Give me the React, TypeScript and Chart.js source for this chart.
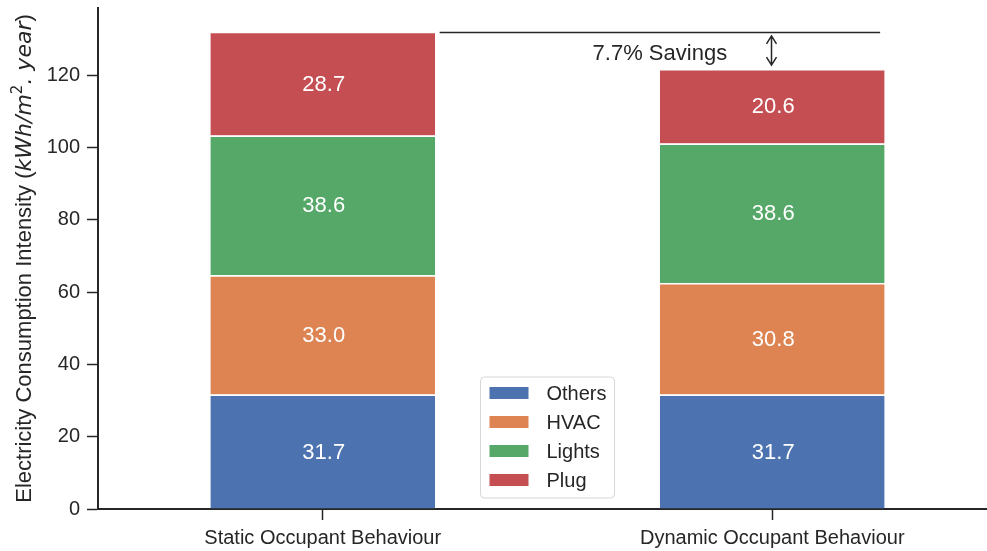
import React, { useEffect, useRef } from 'react';
import { Chart, registerables } from 'chart.js';

Chart.register(...registerables);

const categories = ['Static Occupant Behaviour', 'Dynamic Occupant Behaviour'];
const seriesNames = ['Others', 'HVAC', 'Lights', 'Plug'];
const othersValues = [31.7, 31.7];
const hvacValues = [33.0, 30.8];
const lightsValues = [38.6, 38.6];
const plugValues = [28.7, 20.6];
const seriesColors = ['#4C72B0', '#DD8452', '#55A868', '#C44E52'];
const yTicks = [0, 20, 40, 60, 80, 100, 120];
const yMax = 138.6;
const savingsLabel = '7.7% Savings';
const savingsLineFrom = 0.26;
const savingsLineTo = 1.24;
const savingsTextX = 0.75;
const savingsTextY = 126.0;
const savingsArrowX = 1.0;

const FONT = '"Liberation Sans", Arial, sans-serif';
const TEXT_COLOR = '#262626';

const allSeries = [othersValues, hvacValues, lightsValues, plugValues];

const totals = categories.map((_, i) => allSeries.reduce((s, arr) => s + arr[i], 0));

const overlayPlugin = {
  id: 'overlay',
  afterDatasetsDraw(chart: any) {
    const ctx = chart.ctx;
    ctx.save();
    ctx.fillStyle = '#ffffff';
    ctx.font = `22px ${FONT}`;
    ctx.textAlign = 'center';
    ctx.textBaseline = 'middle';
    chart.data.datasets.forEach((ds: any, di: number) => {
      const meta = chart.getDatasetMeta(di);
      meta.data.forEach((bar: any, i: number) => {
        const v = ds.data[i];
        ctx.fillText(v.toFixed(1), bar.x + 1, (bar.y + bar.base) / 2 + 1);
      });
    });
    ctx.restore();
  },
  afterDraw(chart: any) {
    const ctx = chart.ctx;
    const xs = chart.scales.x;
    const ys = chart.scales.y;
    const area = chart.chartArea;

    const topStatic = totals[0];
    const topDynamic = totals[1];
    ctx.save();
    ctx.strokeStyle = TEXT_COLOR;
    ctx.lineWidth = 1.5;
    const ly = Math.round(ys.getPixelForValue(topStatic)) + 0.5;
    ctx.beginPath();
    ctx.moveTo(xs.getPixelForValue(savingsLineFrom), ly);
    ctx.lineTo(xs.getPixelForValue(savingsLineTo), ly);
    ctx.stroke();

    ctx.fillStyle = TEXT_COLOR;
    ctx.font = `22px ${FONT}`;
    ctx.textAlign = 'center';
    ctx.textBaseline = 'middle';
    ctx.fillText(savingsLabel, xs.getPixelForValue(savingsTextX), ys.getPixelForValue(savingsTextY));

    const ax = Math.round(xs.getPixelForValue(savingsArrowX)) - 0.5;
    const a1 = ys.getPixelForValue(topStatic) + 4;
    const a2 = ys.getPixelForValue(topDynamic) - 4;
    ctx.lineWidth = 1.5;
    ctx.beginPath();
    ctx.moveTo(ax, a1);
    ctx.lineTo(ax, a2);
    ctx.moveTo(ax - 5, a1 + 8);
    ctx.lineTo(ax, a1);
    ctx.lineTo(ax + 5, a1 + 8);
    ctx.moveTo(ax - 5, a2 - 8);
    ctx.lineTo(ax, a2);
    ctx.lineTo(ax + 5, a2 - 8);
    ctx.stroke();
    ctx.restore();

    // legend (lower center)
    ctx.save();
    const bw = 134;
    const bh = 121;
    const bx = (area.left + area.right) / 2 - bw / 2;
    const by = area.bottom - 11 - bh;
    ctx.beginPath();
    const r = 4;
    ctx.moveTo(bx + r, by);
    ctx.lineTo(bx + bw - r, by);
    ctx.quadraticCurveTo(bx + bw, by, bx + bw, by + r);
    ctx.lineTo(bx + bw, by + bh - r);
    ctx.quadraticCurveTo(bx + bw, by + bh, bx + bw - r, by + bh);
    ctx.lineTo(bx + r, by + bh);
    ctx.quadraticCurveTo(bx, by + bh, bx, by + bh - r);
    ctx.lineTo(bx, by + r);
    ctx.quadraticCurveTo(bx, by, bx + r, by);
    ctx.closePath();
    ctx.fillStyle = 'rgba(255,255,255,0.8)';
    ctx.fill();
    ctx.strokeStyle = '#d6d6d6';
    ctx.lineWidth = 1;
    ctx.stroke();
    ctx.font = `20px ${FONT}`;
    ctx.textAlign = 'left';
    ctx.textBaseline = 'middle';
    seriesNames.forEach((name, i) => {
      const cy = by + 16 + i * 29;
      ctx.fillStyle = seriesColors[i];
      ctx.fillRect(bx + 9, cy - 6, 39, 12);
      ctx.fillStyle = TEXT_COLOR;
      ctx.fillText(name, bx + 66, cy + 1);
    });
    ctx.restore();

    // y-axis title with mixed styles
    ctx.save();
    const cyT = (area.top + area.bottom) / 2;
    ctx.translate(22, cyT);
    ctx.rotate(-Math.PI / 2);
    ctx.fillStyle = TEXT_COLOR;
    ctx.textBaseline = 'alphabetic';
    ctx.textAlign = 'left';
    const pieces = [
      { t: 'Electricity Consumption Intensity (', f: `22px ${FONT}`, dy: 0 },
      { t: 'kWh/m', f: `italic 22px "DejaVu Sans", sans-serif`, dy: 0 },
      { t: '2', f: `15px "DejaVu Sans", sans-serif`, dy: -9 },
      { t: '. year', f: `italic 22px "DejaVu Sans", sans-serif`, dy: 0 },
      { t: ')', f: `22px ${FONT}`, dy: 0 },
    ];
    let total = 0;
    pieces.forEach((p) => {
      ctx.font = p.f;
      total += ctx.measureText(p.t).width;
    });
    let px = -total / 2;
    pieces.forEach((p) => {
      ctx.font = p.f;
      ctx.fillText(p.t, px, 9 + p.dy);
      px += ctx.measureText(p.t).width;
    });
    ctx.restore();
  },
};

export default function App() {
  const canvasRef = useRef<HTMLCanvasElement | null>(null);

  useEffect(() => {
    if (!canvasRef.current) return;
    const chart = new Chart(canvasRef.current, {
      type: 'bar',
      data: {
        labels: categories,
        datasets: seriesNames.map((name, i) => ({
          label: name,
          data: allSeries[i],
          backgroundColor: seriesColors[i],
          borderColor: '#ffffff',
          borderWidth: { top: 1.5, bottom: 0, left: 0, right: 0 },
          borderSkipped: false,
          categoryPercentage: 1,
          barPercentage: 0.5,
        })),
      },
      options: {
        animation: false,
        responsive: false,
        maintainAspectRatio: false,
        devicePixelRatio: 1,
        layout: { padding: { top: 8, right: 0, left: 0, bottom: 0 } },
        plugins: {
          legend: { display: false },
          tooltip: { enabled: false },
        },
        scales: {
          x: {
            stacked: true,
            offset: true,
            grid: {
              display: true,
              drawOnChartArea: false,
              drawTicks: true,
              tickLength: 11,
              tickWidth: 1.5,
              tickColor: TEXT_COLOR,
              offset: false,
            },
            border: { display: true, color: TEXT_COLOR, width: 2 },
            ticks: {
              color: TEXT_COLOR,
              font: { family: FONT, size: 20 },
              padding: 6,
              maxRotation: 0,
              autoSkip: false,
            },
            afterFit: (s: any) => {
              s.height = 42;
              s.paddingLeft = 0;
              s.paddingRight = 0;
            },
          },
          y: {
            stacked: true,
            min: 0,
            max: yMax,
            grid: {
              display: true,
              drawOnChartArea: false,
              drawTicks: true,
              tickLength: 11,
              tickWidth: 1.5,
              tickColor: TEXT_COLOR,
            },
            border: { display: true, color: TEXT_COLOR, width: 2 },
            ticks: {
              color: TEXT_COLOR,
              font: { family: FONT, size: 20 },
              padding: 7,
            },
            afterBuildTicks: (s: any) => {
              s.ticks = yTicks.map((v) => ({ value: v }));
            },
            afterFit: (s: any) => {
              s.width = 98;
              s.paddingTop = 0;
              s.paddingBottom = 0;
            },
          },
        },
      },
      plugins: [overlayPlugin],
    });
    return () => chart.destroy();
  }, []);

  return (
    <div style={{ position: 'fixed', left: 0, top: 0, width: 997, height: 551, background: '#ffffff' }}>
      <canvas ref={canvasRef} width={997} height={551} style={{ display: 'block' }} />
    </div>
  );
}
